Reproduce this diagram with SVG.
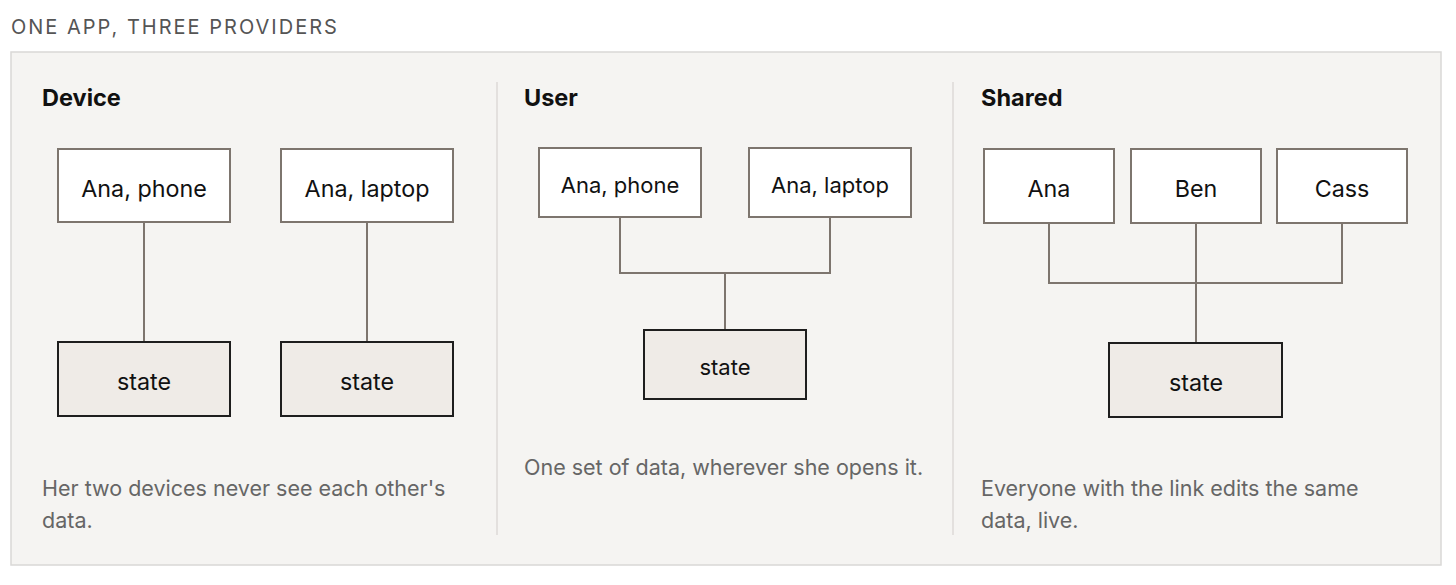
<svg xmlns="http://www.w3.org/2000/svg" width="1456" height="585" viewBox="0 0 1456 585">
<style>
text{font-family:Inter,"Noto Sans","Liberation Sans",sans-serif}
.title{font-size:20px;fill:#555;letter-spacing:2px}
.head{font-size:23.5px;font-weight:700;fill:#111}
.lbl{font-size:23.3px;fill:#111;text-anchor:middle}
.lbl2{font-size:22px;fill:#111;text-anchor:middle}
.cap{font-size:21.5px;fill:#666}
.peer{fill:#fff;stroke:#7d756e;stroke-width:2}
.state{fill:#efebe7;stroke:#1e1e1e;stroke-width:2}
.conn{fill:none;stroke:#7d756e;stroke-width:2}
.div{stroke:#dcdad7;stroke-width:1.5}
</style>
<rect width="1456" height="585" fill="#fff"/>
<text class="title" x="11" y="34">ONE APP, THREE PROVIDERS</text>
<rect x="11" y="52" width="1430" height="513" fill="#f5f4f2" stroke="#d9d8d6" stroke-width="1.5"/>
<line class="div" x1="497" y1="82" x2="497" y2="535"/>
<line class="div" x1="953" y1="82" x2="953" y2="535"/>

<g id="connectors">
<line class="conn" x1="144" y1="222" x2="144" y2="342"/>
<line class="conn" x1="367" y1="222" x2="367" y2="342"/>
<path class="conn" d="M620 217 V273 H830 V217 M725 273 V330"/>
<path class="conn" d="M1049 223 V283 H1342 V223 M1196 223 V343"/>
</g>

<g id="device">
<text class="head" x="42" y="106">Device</text>
<g id="device-phone"><rect class="peer" x="58" y="149" width="172" height="73"/><text class="lbl" x="144" y="197">Ana, phone</text></g>
<g id="device-laptop"><rect class="peer" x="281" y="149" width="172" height="73"/><text class="lbl" x="367" y="197">Ana, laptop</text></g>
<g id="device-state1"><rect class="state" x="58" y="342" width="172" height="74"/><text class="lbl" x="144" y="390">state</text></g>
<g id="device-state2"><rect class="state" x="281" y="342" width="172" height="74"/><text class="lbl" x="367" y="390">state</text></g>
<text class="cap" x="42" y="496">Her two devices never see each other's</text>
<text class="cap" x="42" y="528">data.</text>
</g>

<g id="user">
<text class="head" x="524" y="106">User</text>
<g id="user-phone"><rect class="peer" x="539" y="148" width="162" height="69"/><text class="lbl2" x="620" y="193">Ana, phone</text></g>
<g id="user-laptop"><rect class="peer" x="749" y="148" width="162" height="69"/><text class="lbl2" x="830" y="193">Ana, laptop</text></g>
<g id="user-state"><rect class="state" x="644" y="330" width="162" height="69"/><text class="lbl2" x="725" y="375">state</text></g>
<text class="cap" x="524" y="475">One set of data, wherever she opens it.</text>
</g>

<g id="shared">
<text class="head" x="981" y="106">Shared</text>
<g id="shared-ana"><rect class="peer" x="984" y="149" width="130" height="74"/><text class="lbl" x="1049" y="197">Ana</text></g>
<g id="shared-ben"><rect class="peer" x="1131" y="149" width="130" height="74"/><text class="lbl" x="1196" y="197">Ben</text></g>
<g id="shared-cass"><rect class="peer" x="1277" y="149" width="130" height="74"/><text class="lbl" x="1342" y="197">Cass</text></g>
<g id="shared-state"><rect class="state" x="1109" y="343" width="173" height="74"/><text class="lbl" x="1196" y="391">state</text></g>
<text class="cap" x="981" y="496">Everyone with the link edits the same</text>
<text class="cap" x="981" y="528">data, live.</text>
</g>
</svg>
